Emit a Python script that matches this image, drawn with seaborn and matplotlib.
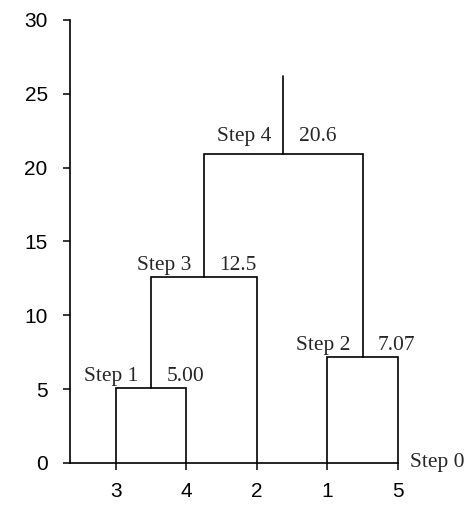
import numpy as np
import pandas as pd
import matplotlib
matplotlib.use("Agg")
import matplotlib.pyplot as plt
import seaborn as sns

# %%
leaf_labels = ["3", "4", "2", "1", "5"]
# merges: (left child, right child) -> leaves are "L<i>", clusters are "S<k>"
merge_left = ["L0", "L3", "S1", "S3"]
merge_right = ["L1", "L4", "L2", "S2"]
merge_height = [5.05, 7.15, 12.6, 20.9]
merge_names = ["Step 1", "Step 2", "Step 3", "Step 4"]
merge_values = ["5.00", "7.07", "12.5", "20.6"]
root_top = 26.2
yticks = [0, 5, 10, 15, 20, 25, 30]

# %%
sns.set_style("ticks")
plt.rcParams["font.family"] = ["Liberation Sans", "DejaVu Sans"]
serif = "Liberation Serif"

fig = plt.figure(figsize=(4.72, 5.11), dpi=100)
ax = fig.add_axes([0.148, 0.094, 0.695, 0.867])

leaf_x = np.arange(1, len(leaf_labels) + 1)
pos = {"L%d" % i: (leaf_x[i], 0.0) for i in range(len(leaf_labels))}

lc = "black"
lw = 1.2
for k in range(len(merge_height)):
    xl, hl = pos[merge_left[k]]
    xr, hr = pos[merge_right[k]]
    h = merge_height[k]
    ax.plot([xl, xl, xr, xr], [hl, h, h, hr], color=lc, lw=lw,
            solid_joinstyle="miter", clip_on=False)
    xc = (xl + xr) / 2
    pos["S%d" % (k + 1)] = (xc, h)
    dy = 6 if k == len(merge_height) - 1 else 1.5
    ax.annotate(merge_names[k], (xc, h), xytext=(-9, dy), textcoords="offset points",
                ha="right", va="bottom", fontsize=15.5, family=serif)
    ax.annotate(merge_values[k], (xc, h), xytext=(11, dy), textcoords="offset points",
                ha="left", va="bottom", fontsize=15.5, family=serif)

# stem above the last merge
xc, h = pos["S%d" % len(merge_height)]
ax.plot([xc, xc], [h, root_top], color=lc, lw=lw)

ax.annotate("Step 0", (leaf_x[-1], 0), xytext=(9, 0), textcoords="offset points",
            ha="left", va="center", fontsize=15.5, family=serif, annotation_clip=False)

ax.set_xlim(0.345, leaf_x[-1])
ax.set_ylim(0, 30)
ax.set_yticks(yticks)
ax.set_xticks(leaf_x)
ax.set_xticklabels(leaf_labels)
ax.tick_params(axis="both", labelsize=15, length=5, width=1.1, color="black", labelcolor="black")
ax.tick_params(axis="y", pad=11)
ax.tick_params(axis="x", pad=9)
sns.despine(ax=ax)
for s in ["left", "bottom"]:
    ax.spines[s].set_linewidth(1.2)
    ax.spines[s].set_color("black")

fig.savefig("out.png", dpi=100)
